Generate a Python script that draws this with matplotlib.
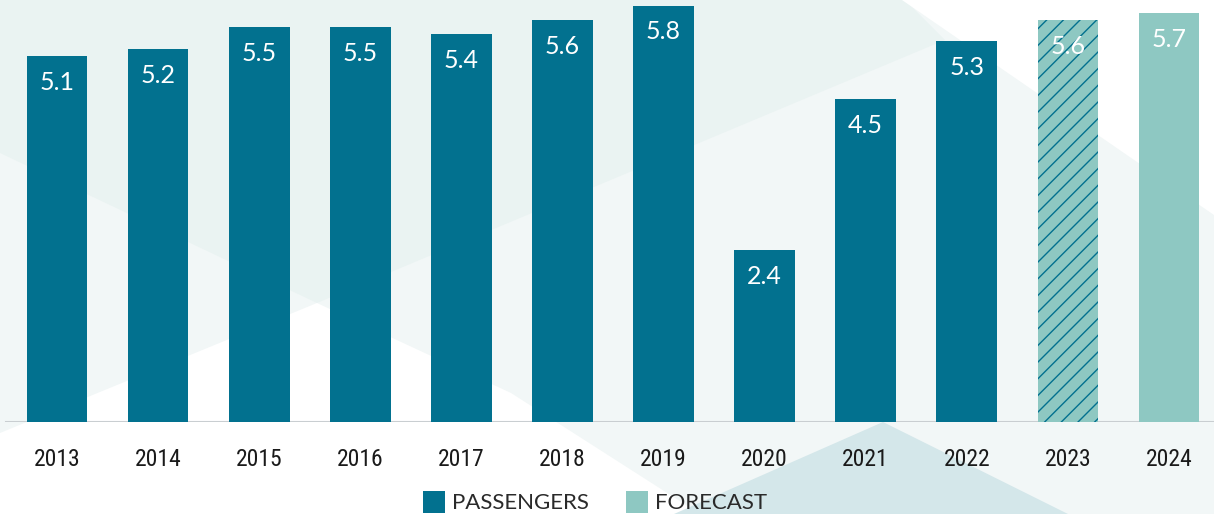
import matplotlib.pyplot as plt
from matplotlib import font_manager
from matplotlib.patches import Polygon, Patch

# Data (million passengers)
years = ['2013', '2014', '2015', '2016', '2017', '2018',
         '2019', '2020', '2021', '2022', '2023', '2024']
passengers = [5.1, 5.2, 5.5, 5.5, 5.4, 5.6, 5.8, 2.4, 4.5, 5.3, 5.6, 5.7]
kinds = ['actual'] * 10 + ['hatched', 'forecast']

dark = '#02718f'
light = '#8ec8c2'

W, H = 1214, 514
plt.rcParams['hatch.linewidth'] = 1.0

# the year labels use a condensed face in the original, take one if present
installed = {f.name for f in font_manager.fontManager.ttflist}
narrow = 'Roboto'
for name in ['Liberation Sans Narrow', 'Roboto Condensed', 'Open Sans Condensed',
             'Noto Sans Condensed']:
    if name in installed:
        narrow = name
        break

fig = plt.figure(figsize=(W / 100, H / 100), dpi=100)
fig.patch.set_facecolor('#f2f7f7')


def px(points):
    # decorative background shapes, given in pixel coords from the top-left
    return [(x / W, 1 - y / H) for x, y in points]


shapes = [
    ([(0, 0), (905, 0), (945, 40), (317, 303), (0, 153)], '#eaf3f2'),
    ([(902, 0), (1214, 0), (1214, 215)], 'white'),
    ([(317, 303), (0, 433), (0, 514), (700, 514), (511, 393)], 'white'),
    ([(883, 422), (674, 514), (1068, 514)], '#d4e7ea'),
]
for pts, col in shapes:
    fig.patches.append(Polygon(px(pts), closed=True, transform=fig.transFigure,
                               facecolor=col, edgecolor='none', zorder=-10))

ax = fig.add_axes([0, 92 / H, 1, 422 / H])
ax.set_zorder(1)
ax.patch.set_alpha(0)

x = list(range(len(years)))
for i, (v, k) in enumerate(zip(passengers, kinds)):
    if k == 'actual':
        ax.bar(i, v, width=0.6, color=dark, linewidth=0, zorder=2)
    elif k == 'hatched':
        ax.bar(i, v, width=0.6, facecolor=light, edgecolor=dark,
               hatch='//', linewidth=0, zorder=2)
    else:
        ax.bar(i, v, width=0.6, color=light, linewidth=0, zorder=2)
    ax.annotate(f'{v:.1f}', (i, v), xytext=(0, -19), textcoords='offset points',
                ha='center', va='center', color='white', fontsize=18,
                family='Lato', zorder=3)

ax.set_xlim(-0.564, 11.446)
ax.set_ylim(0, 422 / 71.8)
ax.axhline(0, xmin=0.005, xmax=1, color='#c9ced1', linewidth=1.5, zorder=1)

ax.set_xticks(x)
ax.set_xticklabels(years, fontsize=17, color='#1a1a1a', family=narrow,
                   fontstretch='condensed')
ax.tick_params(axis='x', length=0, pad=19)
ax.set_yticks([])
for s in ax.spines.values():
    s.set_visible(False)

handles = [Patch(facecolor=dark, label='PASSENGERS'),
           Patch(facecolor=light, label='FORECAST')]
leg = fig.legend(handles=handles, loc='center', bbox_to_anchor=(595 / W, 12 / H),
                 ncol=2, frameon=False, handlelength=1.0, handleheight=1.2,
                 handletextpad=0.3, columnspacing=1.7,
                 prop={'family': 'Lato', 'size': 16}, labelcolor='#2a2a2a')
leg.set_zorder(2)

fig.savefig('out.png', dpi=100, facecolor=fig.get_facecolor())
